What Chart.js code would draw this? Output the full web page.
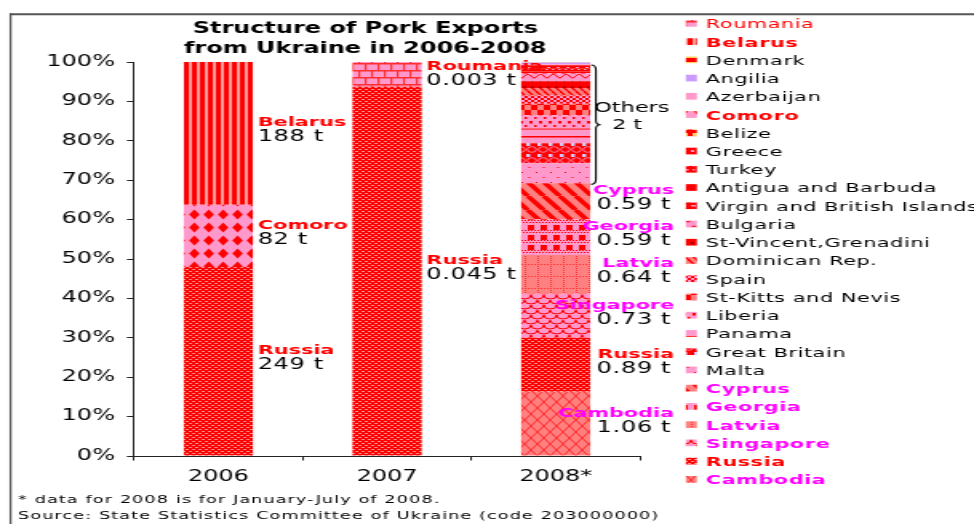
<!DOCTYPE html>
<html lang="en">
<head>
<meta charset="UTF-8">
<title>Structure of Pork Exports from Ukraine in 2006-2008</title>
<style>
  html, body { margin: 0; padding: 0; background: #fff; overflow: hidden; }
  #chart { display: block; }
</style>
</head>
<body>
<!-- drawn narrow and stretched sideways, like the original picture -->
<canvas id="chart" width="609" height="524" style="width:974px;height:524px"></canvas>
<script src="https://cdn.jsdelivr.net/npm/chart.js"></script>
<script>
// ---- data (shares in %, stacked from the bottom up) ----
const years = ['2006', '2007', '2008*'];
const countries = ['Cambodia', 'Russia', 'Singapore', 'Latvia', 'Georgia', 'Cyprus', 'Malta',
    'Great Britain', 'Panama', 'Liberia', 'St-Kitts and Nevis', 'Spain', 'Dominican Rep.',
    'St-Vincent,Grenadini', 'Bulgaria', 'Virgin and British Islands', 'Antigua and Barbuda',
    'Turkey', 'Greece', 'Belize', 'Comoro', 'Azerbaijan', 'Angilia', 'Denmark', 'Belarus', 'Roumania'];
const share2006 = [0, 48.0, 0, 0, 0, 0, 0, 0, 0, 0, 0, 0, 0, 0, 0, 0, 0, 0, 0, 0, 15.8, 0, 0, 0, 36.2, 0];
const share2007 = [0, 93.7, 0, 0, 0, 0, 0, 0, 0, 0, 0, 0, 0, 0, 0, 0, 0, 0, 0, 0, 0, 0, 0, 0, 0, 6.3];
const share2008 = [16.3, 13.7, 11.2, 9.8, 9.1, 9.1, 5.1, 5.1, 3.7, 3.4, 2.9, 2.1, 1.9, 1.7, 1.9,
    0.6, 0.4, 0.4, 0.3, 0.5, 0, 0.2, 0.5, 0.1, 0, 0];

// segment labels
const labelCountry = ['Russia', 'Comoro', 'Belarus', 'Russia', 'Roumania',
    'Cambodia', 'Russia', 'Singapore', 'Latvia', 'Georgia', 'Cyprus'];
const labelYear = [0, 0, 0, 1, 1, 2, 2, 2, 2, 2, 2];
const labelTonnes = ['249 t', '82 t', '188 t', '0.045 t', '0.003 t',
    '1.06 t', '0.89 t', '0.73 t', '0.64 t', '0.59 t', '0.59 t'];
const othersFrom = 'Malta';
const othersLabel = ['Others', '2 t'];

const titleLines = ['Structure of Pork Exports', 'from Ukraine in 2006-2008'];
const footNotes = ['* data for 2008 is for January-July of 2008.',
    'Source: State Statistics Committee of Ukraine (code 203000000)'];
const magentaNames = ['Cambodia', 'Singapore', 'Latvia', 'Georgia', 'Cyprus'];

// ---- fill patterns ----
const RED = '#ff0000', PINK = '#ff99cc', SALMON = '#ff8080', LAV = '#ccccff', LILAC = '#cc99ff', YEL = '#ffcc66';

function tile(w, h, bg, draw) {
    const c = document.createElement('canvas');
    c.width = w; c.height = h;
    const g = c.getContext('2d');
    g.fillStyle = bg;
    g.fillRect(0, 0, w, h);
    if (draw) draw(g, w, h);
    return g.createPattern(c, 'repeat');
}
function ln(g, x1, y1, x2, y2) {
    g.beginPath(); g.moveTo(x1, y1); g.lineTo(x2, y2); g.stroke();
}
function diag(g, w, h) {
    for (const o of [-w, 0, w]) ln(g, o, 0, o + w, h);
}

const fills = {
    'Cambodia': tile(8, 12, SALMON, g => { g.strokeStyle = '#ff2a2a'; g.lineWidth = 1; ln(g, 0, 0, 8, 12); ln(g, 8, 0, 0, 12); }),
    'Russia': tile(4, 4, RED, g => { g.fillStyle = '#ff8c8c'; g.fillRect(0, 1, 2, 1); g.fillRect(2, 3, 2, 1); }),
    'Singapore': tile(8, 10, PINK, g => {
        g.strokeStyle = RED; g.lineWidth = 1;
        g.beginPath(); g.arc(4, 0, 4, 0, Math.PI); g.stroke();
        g.beginPath(); g.arc(0, 5, 4, 0, Math.PI); g.stroke();
        g.beginPath(); g.arc(8, 5, 4, 0, Math.PI); g.stroke();
    }),
    'Latvia': tile(8, 12, SALMON, g => {
        g.fillStyle = '#ff3030';
        for (let y = 0; y < 12; y += 2) g.fillRect(0, y, 1, 1);
        for (let x = 0; x < 8; x += 2) g.fillRect(x, 0, 1, 1);
    }),
    'Georgia': tile(8, 10, PINK, g => {
        g.fillStyle = RED;
        for (let x = 0; x < 8; x += 2) { g.fillRect(x, 0, 1, 1); g.fillRect(x + 1, 2, 1, 1); }
        g.fillRect(2, 5, 4, 5);
    }),
    'Cyprus': tile(10, 14, SALMON, g => { g.strokeStyle = RED; g.lineWidth = 3.5; diag(g, 10, 14); }),
    'Malta': tile(9, 10, PINK, g => { g.fillStyle = RED; g.fillRect(2, 2, 1, 1); g.fillRect(6.5, 7, 1, 1); }),
    'Great Britain': tile(7, 11, RED, g => {
        g.fillStyle = LAV; g.fillRect(0, 0, 2.5, 3);
        g.strokeStyle = PINK; g.lineWidth = 0.8;
        g.beginPath(); g.arc(3.5, 6.5, 2.8, 0, 2 * Math.PI); g.stroke();
    }),
    'Panama': tile(4, 8, PINK, g => { g.fillStyle = RED; g.fillRect(0, 0, 4, 1.5); }),
    'Liberia': tile(6, 8, PINK, g => { g.fillStyle = RED; g.fillRect(1, 1, 2, 2.5); g.fillRect(4, 5, 1.5, 2); }),
    'St-Kitts and Nevis': tile(8, 10, SALMON, g => { g.fillStyle = RED; g.fillRect(0, 0, 4, 5); g.fillRect(4, 5, 4, 5); }),
    'Spain': tile(4, 4, PINK, g => { g.fillStyle = RED; g.fillRect(0, 0, 2, 2); g.fillRect(2, 2, 2, 2); }),
    'Dominican Rep.': tile(5, 7, SALMON, g => { g.strokeStyle = RED; g.lineWidth = 1.5; diag(g, 5, 7); }),
    'St-Vincent,Grenadini': tile(5, 6, RED, g => { g.fillStyle = '#990000'; g.fillRect(2, 2, 1.5, 2); }),
    'Bulgaria': tile(8, 8, PINK, g => {
        g.strokeStyle = RED; g.lineWidth = 1;
        g.beginPath(); g.moveTo(0, 4); g.quadraticCurveTo(2, 0, 4, 4); g.quadraticCurveTo(6, 8, 8, 4); g.stroke();
    }),
    'Virgin and British Islands': tile(6, 4, RED, g => { g.fillStyle = PINK; g.fillRect(0, 1, 3, 1.5); }),
    'Antigua and Barbuda': tile(4, 4, RED, g => { g.fillStyle = '#dd0000'; g.fillRect(0, 0, 1, 1); }),
    'Turkey': tile(4, 4, RED, g => { g.fillStyle = PINK; g.fillRect(1, 1, 1.5, 1.5); }),
    'Greece': tile(6, 6, RED, g => { g.fillStyle = PINK; g.fillRect(0, 0, 2, 2); }),
    'Belize': tile(6, 6, RED, g => { g.fillStyle = YEL; g.fillRect(1, 1, 3, 3); }),
    'Comoro': tile(9, 13, PINK, g => {
        g.fillStyle = RED;
        g.beginPath(); g.moveTo(4.5, 1.5); g.lineTo(7.8, 6.5); g.lineTo(4.5, 11.5); g.lineTo(1.2, 6.5); g.closePath(); g.fill();
    }),
    'Azerbaijan': tile(4, 4, PINK),
    'Angilia': tile(4, 4, LILAC),
    'Denmark': tile(4, 6, RED, g => { g.fillStyle = YEL; g.fillRect(0, 2, 4, 2); }),
    'Belarus': tile(5, 4, RED, g => { g.fillStyle = '#ff9a9a'; g.fillRect(3, 0, 2, 4); }),
    'Roumania': tile(8, 14, PINK, g => {
        g.fillStyle = '#ff3030';
        g.fillRect(0, 0, 8, 1.5); g.fillRect(0, 7, 8, 1.5);
        g.fillRect(0, 0, 1.2, 7); g.fillRect(4, 7, 1.2, 7);
    })
};

const FONT = 'DejaVu Sans, Verdana, sans-serif';
Chart.defaults.font.family = FONT;

function nameColor(name) {
    if (magentaNames.includes(name)) return '#ff00ff';
    if (labelCountry.includes(name)) return RED;
    return '#000';
}

// ---- labels next to the bar segments ----
const segmentLabels = {
    id: 'segmentLabels',
    afterDatasetsDraw(chart) {
        const ctx = chart.ctx;
        const top = chart.chartArea.top;
        ctx.save();
        labelCountry.forEach((name, k) => {
            const j = labelYear[k];
            const bar = chart.getDatasetMeta(countries.indexOf(name)).data[j];
            const c = (bar.y + bar.base) / 2;
            const right = bar.x + bar.width / 2;
            const nameY = Math.max(c - 7, top + 8);
            const valY = nameY + 15;
            ctx.textBaseline = 'alphabetic';
            ctx.font = '15px ' + FONT;
            ctx.letterSpacing = '0.4px';
            const vw = ctx.measureText(labelTonnes[k]).width;
            let vx, nx, nAlign;
            if (j < 2) {
                vx = right + 3; nx = right + 3; nAlign = 'left';
            } else {
                vx = right + 4; nx = vx + vw + 2; nAlign = 'right';
            }
            ctx.textAlign = 'left';
            ctx.fillStyle = '#000';
            ctx.fillText(labelTonnes[k], vx, valY);
            ctx.letterSpacing = '0px';
            ctx.font = 'bold 13px ' + FONT;
            ctx.textAlign = nAlign;
            ctx.fillStyle = nameColor(name);
            ctx.fillText(name, nx, nameY);
        });

        // brace round the small 2008 countries
        const first = chart.getDatasetMeta(countries.indexOf(othersFrom)).data[2];
        const last = chart.getDatasetMeta(countries.length - 1).data[2];
        const right = first.x + first.width / 2;
        const t = Math.min(last.y, last.base) + 3, b = first.base + 1;
        const m = (t + b) / 2;
        const x0 = right + 0.5, x1 = right + 3.5, x2 = right + 6.5;
        ctx.strokeStyle = '#000';
        ctx.lineWidth = 1.1;
        ctx.beginPath();
        ctx.moveTo(x0, t);
        ctx.quadraticCurveTo(x1, t, x1, t + 5);
        ctx.lineTo(x1, m - 4);
        ctx.quadraticCurveTo(x1, m, x2, m);
        ctx.quadraticCurveTo(x1, m, x1, m + 4);
        ctx.lineTo(x1, b - 5);
        ctx.quadraticCurveTo(x1, b, x0, b);
        ctx.stroke();
        ctx.fillStyle = '#000';
        ctx.textAlign = 'center';
        ctx.font = '14px ' + FONT;
        ctx.fillText(othersLabel[0], right + 26, m - 13);
        ctx.fillText(othersLabel[1], right + 23, m + 4);
        ctx.restore();
    }
};

// ---- frame, title, legend and notes ----
const decorations = {
    id: 'decorations',
    afterDraw(chart) {
        const ctx = chart.ctx;
        ctx.save();
        ctx.strokeStyle = '#555';
        ctx.lineWidth = 2;
        ctx.beginPath(); ctx.moveTo(6, 14.3); ctx.lineTo(chart.width + 2, 14.3); ctx.stroke();
        ctx.lineWidth = 1.3;
        ctx.beginPath(); ctx.moveTo(6.6, 13.3); ctx.lineTo(6.6, chart.height + 2); ctx.stroke();

        ctx.fillStyle = '#000';
        ctx.textAlign = 'center';
        ctx.textBaseline = 'alphabetic';
        ctx.font = 'bold 15px ' + FONT;
        ctx.fillText(titleLines[0], 228.4, 33);
        ctx.fillText(titleLines[1], 228.4, 52.5);

        ctx.textAlign = 'left';
        ctx.font = '11px ' + FONT;
        ctx.letterSpacing = '0.7px';
        ctx.fillText(footNotes[0], 11.3, 503);
        ctx.fillText(footNotes[1], 11.3, 519.3);

        // legend, top of the stack first
        ctx.letterSpacing = '0.35px';
        const n = countries.length;
        for (let i = 0; i < n; i++) {
            const name = countries[n - 1 - i];
            const y = 28.3 + i * 18.24;
            ctx.fillStyle = fills[name];
            ctx.fillRect(428.8, y - 8.3, 6.9, 6.7);
            const bold = labelCountry.includes(name) && name !== 'Roumania';
            ctx.font = (bold ? 'bold ' : '') + '13px ' + FONT;
            ctx.fillStyle = nameColor(name);
            ctx.fillText(name, 441.3, y);
        }
        ctx.letterSpacing = '0px';
        ctx.restore();
    }
};

const datasets = countries.map((name, i) => ({
    label: name,
    data: [share2006[i], share2007[i], share2008[i]],
    backgroundColor: fills[name],
    borderWidth: 0,
    barPercentage: 0.41,
    categoryPercentage: 1
}));

new Chart(document.getElementById('chart'), {
    type: 'bar',
    data: { labels: years, datasets: datasets },
    options: {
        responsive: false,
        animation: false,
        devicePixelRatio: 1,
        layout: { padding: { top: 62, right: 208.8, bottom: 0, left: 0 } },
        plugins: {
            legend: { display: false },
            title: { display: false },
            tooltip: { enabled: false }
        },
        scales: {
            x: {
                stacked: true,
                grid: { display: true, drawOnChartArea: false, offset: true, tickLength: 4.5, color: '#222' },
                border: { color: '#222' },
                ticks: { font: { size: 15 }, color: '#000', padding: 8 },
                afterFit: s => { s.height = 68; }
            },
            y: {
                stacked: true,
                min: 0,
                max: 100,
                ticks: { stepSize: 10, callback: v => v + '%', font: { size: 15 }, color: '#000', padding: 7.4 },
                grid: { drawOnChartArea: false, tickLength: 4.5, color: '#222' },
                border: { color: '#222' },
                afterFit: s => { s.width = 83.8; }
            }
        }
    },
    plugins: [segmentLabels, decorations]
});
</script>
</body>
</html>
